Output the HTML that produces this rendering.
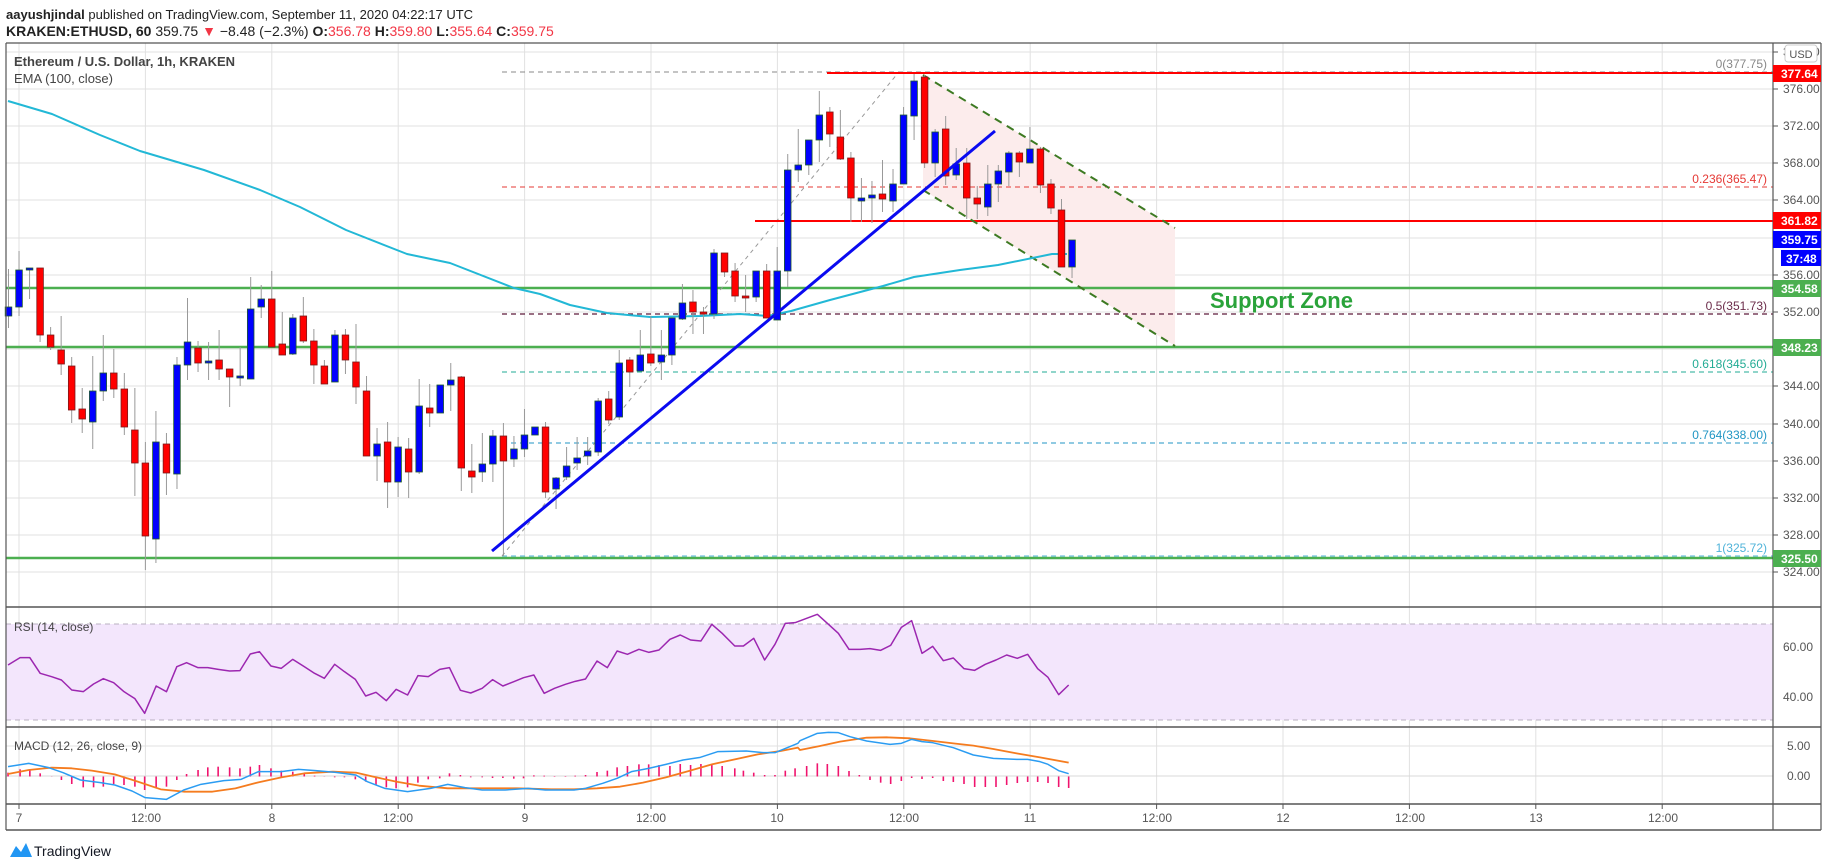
<!DOCTYPE html>
<html><head><meta charset="utf-8"><style>
body{margin:0;background:#fff;width:1828px;height:868px;overflow:hidden;font-family:"Liberation Sans",sans-serif;}
svg{position:absolute;left:0;top:0}
</style></head><body>
<svg id="s" width="1828" height="868" xmlns="http://www.w3.org/2000/svg" font-family="Liberation Sans, sans-serif">
<g id="grid"></g>
<g id="bg"></g>
<g id="ov"></g>
<g id="cd"></g>
<g id="top"></g>
<!-- header -->
<text x="6" y="19" font-size="13" fill="#222"><tspan font-weight="bold">aayushjindal</tspan> published on TradingView.com, September 11, 2020 04:22:17 UTC</text>
<text x="6" y="36" font-size="14" fill="#222"><tspan font-weight="bold">KRAKEN:ETHUSD, 60</tspan> 359.75 <tspan fill="#f23645">▼</tspan> −8.48 (−2.3%) <tspan font-weight="bold">O:</tspan><tspan fill="#f23645">356.78</tspan> <tspan font-weight="bold">H:</tspan><tspan fill="#f23645">359.80</tspan> <tspan font-weight="bold">L:</tspan><tspan fill="#f23645">355.64</tspan> <tspan font-weight="bold">C:</tspan><tspan fill="#f23645">359.75</tspan></text>
<text x="14" y="66" font-size="13" font-weight="bold" fill="#444">Ethereum / U.S. Dollar, 1h, KRAKEN</text>
<text x="14" y="83" font-size="13" fill="#444">EMA (100, close)</text>
<text x="1210" y="308" font-size="22" font-weight="bold" fill="#2aa33a">Support Zone</text>
<!-- fib labels -->
<g font-size="12" text-anchor="end">
<text x="1767" y="68" fill="#888">0(377.75)</text>
<text x="1767" y="183" fill="#e53935">0.236(365.47)</text>
<text x="1767" y="310" fill="#6b2c4a">0.5(351.73)</text>
<text x="1767" y="368" fill="#22ab94">0.618(345.60)</text>
<text x="1767" y="439" fill="#2196c4">0.764(338.00)</text>
<text x="1767" y="552" fill="#4fb3d9">1(325.72)</text>
</g>
<!-- price axis -->
<g font-size="12" fill="#555">
<text x="1783" y="56">380.00</text>
<text x="1783" y="93">376.00</text>
<text x="1783" y="130">372.00</text>
<text x="1783" y="167">368.00</text>
<text x="1783" y="204">364.00</text>
<text x="1783" y="279">356.00</text>
<text x="1783" y="316">352.00</text>
<text x="1783" y="390">344.00</text>
<text x="1783" y="428">340.00</text>
<text x="1783" y="465">336.00</text>
<text x="1783" y="502">332.00</text>
<text x="1783" y="539">328.00</text>
<text x="1783" y="576">324.00</text>
<text x="1783" y="651">60.00</text>
<text x="1783" y="701">40.00</text>
<text x="1787" y="750">5.00</text>
<text x="1787" y="780">0.00</text>
</g>
<rect x="1785" y="45" width="32" height="17" rx="3" fill="#fff" stroke="#ccc"/>
<text x="1801" y="58" font-size="11" fill="#555" text-anchor="middle">USD</text>
<g font-size="12" font-weight="bold" fill="#fff">
<rect x="1773" y="65" width="48" height="17" fill="#ff0000"/><text x="1781" y="78">377.64</text>
<rect x="1773" y="212" width="48" height="17" fill="#ff0000"/><text x="1781" y="225">361.82</text>
<rect x="1773" y="231" width="48" height="17" fill="#0000ff"/><text x="1781" y="244">359.75</text>
<rect x="1781" y="250" width="40" height="16" fill="#0000ff"/><text x="1786" y="263">37:48</text>
<rect x="1773" y="280" width="48" height="17" fill="#4caf50"/><text x="1781" y="293">354.58</text>
<rect x="1773" y="339" width="48" height="17" fill="#4caf50"/><text x="1781" y="352">348.23</text>
<rect x="1773" y="550" width="48" height="17" fill="#4caf50"/><text x="1781" y="563">325.50</text>
</g>
<text x="14" y="631" font-size="12" fill="#444">RSI (14, close)</text>
<text x="14" y="750" font-size="12" fill="#444">MACD (12, 26, close, 9)</text>
<!-- time axis -->
<g font-size="12" fill="#555" text-anchor="middle">
<text x="19" y="822">7</text><text x="146" y="822">12:00</text><text x="272" y="822">8</text><text x="398" y="822">12:00</text>
<text x="525" y="822">9</text><text x="651" y="822">12:00</text><text x="777" y="822">10</text><text x="904" y="822">12:00</text>
<text x="1030" y="822">11</text><text x="1157" y="822">12:00</text><text x="1283" y="822">12</text><text x="1410" y="822">12:00</text>
<text x="1536" y="822">13</text><text x="1663" y="822">12:00</text>
</g>
<path d="M10 857 L16 846 L21 852 L26 843 L32 857 Z" fill="#2196f3"/>
<text x="34" y="856" font-size="14" fill="#131722">TradingView</text>
</svg>
<script>
var NS="http://www.w3.org/2000/svg";
function el(g,t,a){var e=document.createElementNS(NS,t);for(var k in a)e.setAttribute(k,a[k]);document.getElementById(g).appendChild(e);return e;}
function line(g,x1,y1,x2,y2,c,w,d){var a={x1:x1,y1:y1,x2:x2,y2:y2,stroke:c,"stroke-width":w||1};if(d)a["stroke-dasharray"]=d;return el(g,"line",a);}
function poly(g,pts,c,w){el(g,"polyline",{points:pts.map(function(p){return p[0]+","+p[1]}).join(" "),fill:"none",stroke:c,"stroke-width":w||1.5,"stroke-linejoin":"round"});}
var L=6,R=1773;
[52,89,126,163,200,238,275,312,349,386,424,461,498,535,572].forEach(function(y){line("grid",L,y,R,y,"#e1e1e1",1);line("grid",R,y,R+5,y,"#555",1);});
for(var i=0;i<14;i++){var x=19+i*126.4;line("grid",x,43,x,804,"#e1e1e1",1);line("grid",x,804,x,809,"#555",1);}
el("bg","rect",{x:L,y:624,width:R-L,height:96,fill:"#f3e6fc"});
line("grid",L,647,R,647,"#d2c4dc",1);line("grid",L,697,R,697,"#d2c4dc",1);
line("ov",L,624,R,624,"#b9b0c0",1,"5,4");line("ov",L,720,R,720,"#b9b0c0",1,"5,4");
line("grid",L,746,R,746,"#e1e1e1",1);line("grid",L,776,R,776,"#d9d9d9",1);
el("bg","polygon",{points:"923,75 1175,228 1175,346 923,190",fill:"#fcecec"});
[288,347,558].forEach(function(y){line("ov",L,y,R,y,"#4caf50",2.5);});
line("ov",502,72,R,72,"#888",1,"5,4");line("ov",502,187,R,187,"#e53935",1,"5,4");
line("ov",502,314,R,314,"#5d1a3a",1.2,"5,4");line("ov",502,372,R,372,"#22ab94",1,"5,4");
line("ov",502,443,R,443,"#2196c4",1,"5,4");line("ov",502,556,R,556,"#4fb3d9",1,"5,4");
line("ov",502,556,898,73,"#999",1,"4,4");
line("ov",827,73,R,73,"#ff0000",2);line("ov",755,221,R,221,"#ff0000",2);
line("ov",923,75,1175,228,"#3d7a22",2,"8,6");line("ov",923,190,1175,346,"#3d7a22",2,"8,6");
poly("ov",[[8,101],[52,114],[100,135],[140,151],[204,170],[260,190],[300,207],[346,230],[407,254],[450,263],[514,288],[540,294],[570,305],[607,313],[650,317],[700,316],[740,314],[768,316],[791,311],[830,300],[883,286],[914,277],[960,270],[998,265],[1052,254],[1067,254]],"#22b8d6",2);
var C=[[307,316,1,269,328],[270,307,1,251,316],[268,270,1,268,299],[268,335,0,268,342],[335,347,0,327,350],[350,364,0,316,375],[366,410,0,357,423],[409,419,0,388,433],[391,422,1,356,449],[373,391,1,335,401],[373,389,0,349,398],[389,427,0,373,435],[430,463,0,388,496],[463,536,0,442,570],[442,539,1,411,563],[444,473,0,433,495],[365,474,1,357,489],[342,365,1,298,380],[348,363,0,341,372],[361,363,1,342,380],[360,369,0,330,380],[369,377,0,369,407],[376,377,1,347,386],[309,379,1,277,379],[299,307,1,285,318],[299,347,0,271,347],[344,355,0,312,355],[318,354,1,314,355],[316,341,0,297,343],[341,365,0,329,384],[366,384,0,360,384],[335,382,1,330,382],[335,360,0,329,374],[362,387,0,324,404],[391,456,0,376,456],[444,456,1,428,481],[442,482,0,422,508],[447,482,1,437,497],[449,472,0,438,498],[406,472,1,379,474],[408,413,0,384,427],[385,413,1,385,413],[380,385,1,363,411],[377,468,0,376,491],[471,477,0,444,493],[464,472,1,433,482],[436,464,1,430,482],[436,461,0,423,556],[449,459,1,436,467],[435,449,1,409,457],[427,435,1,427,435],[427,492,0,422,498],
[478,489,1,477,509],[466,477,1,447,480],[458,463,1,437,470],[451,456,1,437,465],[401,452,1,398,456],[399,420,0,391,424],[363,417,1,350,420],[360,372,0,357,387],[355,371,1,330,371],[354,363,0,316,366],[355,362,1,330,380],[318,355,1,317,365],[303,319,1,284,320],[302,312,0,290,334],[312,314,0,307,334],[253,314,1,249,319],[253,272,0,253,277],[271,296,0,263,302],[296,298,0,275,312],[271,297,1,271,302],[271,318,0,264,318],[271,320,1,247,320],[170,271,1,154,287],[165,170,1,129,182],[140,165,1,140,175],[115,140,1,91,162],[112,134,0,107,147],[137,159,0,110,160],[158,198,0,152,222],[198,201,1,178,222],[195,198,1,181,223],[194,199,0,160,212],[184,201,1,169,212],[115,184,1,107,184],[81,116,1,74,140],[77,163,0,75,168],[132,163,1,129,177],[129,176,0,116,185],[164,175,1,148,180],[163,198,0,148,219],[198,204,0,186,219],[184,207,1,165,216],[171,184,1,165,202],[153,172,1,151,186],[153,162,0,151,177],[149,163,1,127,163],[149,185,0,147,193],[184,208,0,179,214],[210,267,0,199,267],[240,267,1,240,278]];
C.forEach(function(c,i){var x=8.5+i*10.53;line("cd",x,c[3],x,c[4],"#999",1);
var h=Math.max(c[1]-c[0],2);el("cd","rect",{x:x-3.3,y:c[0],width:6.6,height:h,fill:c[2]?"#0000ff":"#ff0000",stroke:c[2]?"#1e5a2a":"#7a1a1a","stroke-width":0.8});});
line("top",492,551,995,131,"#0a0af0",3);
var r3=[[14,255],[35,233],[52,233],[70,280],[90,290],[107,300],[125,330],[145,335],[163,312],[180,296],[198,308],[216,335],[235,356],[252,400],[272,318],[290,335],[308,260],[325,248],[345,263],[362,263],[380,268],[400,273],[418,272],[436,222],[452,215],[472,258],[490,265],[510,238],[530,260],[548,280],[565,295],[583,253],[600,275],[619,298],[637,348],[655,337],[673,362],[690,328],[710,345],[728,287],[746,290],[766,268],[783,263],[802,331],[820,339],[840,325],[858,299],[876,318],[895,305],[912,293],[930,285],[948,340],[966,325],[985,313],[1002,304],[1020,297],[1040,243],[1058,263],[1075,213],[1093,223],[1113,208],[1130,217],[1148,210],[1167,178],[1185,165],[1203,180],[1221,183],[1240,133],[1258,160],[1280,198],[1295,198],[1313,175],[1332,240],[1350,193],[1368,130],[1385,128]];
var r8=[[52,43],[82,70],[115,100],[147,148],[180,148],[210,146],[242,151],[272,136],[304,82],[335,62],[366,160],[398,139],[430,182],[460,174],[492,206],[524,211],[556,193],[588,180],[620,165],[652,175],[683,163],[713,206],[744,232],[776,284],[806,255]];
function z3(a){return a.map(function(p){return [p[0]/1.742,580+p[1]/3]});}
function z8(a){return a.map(function(p){return [800+p[0]/3,600+p[1]/3]});}
poly("ov",z3(r3).concat(z8(r8)),"#9c27b0",1.5);
var h3=[[14,578],[35,568],[52,568],[70,580],[90,590],[107,600],[125,612],[145,622],[163,622],[180,620],[198,612],[216,615],[235,620],[252,630],[272,625],[290,620],[308,600],[325,582],[345,570],[362,562],[380,560],[400,562],[418,565],[436,560],[452,555],[472,565],[490,572],[510,575],[530,582],[548,587],[565,590],[583,592],[600,592],[619,598],[637,605],[655,615],[673,622],[690,625],[710,622],[728,608],[746,598],[766,595],[783,580],[802,585],[820,592],[840,592],[858,594],[876,594],[895,596],[912,595],[930,586],[948,587],[966,588],[985,588],[1002,587],[1020,585],[1040,576],[1058,572],[1075,562],[1093,558],[1113,553],[1130,553],[1148,555],[1167,558],[1185,552],[1203,555],[1221,552],[1240,552],[1258,558],[1280,565],[1295,572],[1313,578],[1332,585],[1350,585],[1368,572],[1385,565]];
var h8=[[20,498],[52,490],[82,492],[115,498],[147,513],[178,525],[210,540],[242,548],[272,552],[304,543],[335,534],[366,537],[398,534],[430,543],[460,546],[492,552],[524,561],[556,561],[588,561],[620,555],[652,549],[683,546],[713,546],[744,549],[776,561],[806,564]];
z3(h3).concat(z8(h8)).forEach(function(p){line("ov",p[0],776.5,p[0],p[1],"#f0146e",1.6);});
var m3=[[14,560],[50,550],[85,563],[110,578],[140,600],[175,608],[200,615],[230,633],[253,653],[290,658],[320,630],[350,613],[390,602],[420,598],[450,575],[490,575],[520,568],[550,572],[585,577],[620,585],[640,605],[670,625],[710,635],[750,625],[780,613],[810,623],[840,630],[880,630],[920,625],[950,630],[1000,630],[1020,625],[1050,610],[1075,595],[1100,575],[1130,565],[1160,553],[1190,540],[1220,532],[1250,515],[1300,513],[1330,518],[1350,518],[1390,490]];
var m8=[[0,422],[52,400],[85,397],[115,398],[150,410],[200,423],[270,433],[304,430],[335,418],[366,425],[398,428],[460,443],[520,465],[580,475],[650,478],[683,478],[720,485],[744,493],[776,512],[806,521]];
var s3=[[14,582],[50,570],[90,563],[125,565],[160,572],[200,583],[240,605],[280,628],[320,635],[370,635],[410,625],[450,607],[490,592],[530,580],[580,575],[620,578],[650,590],[690,605],[730,617],[780,625],[830,625],[900,625],[960,628],[1000,628],[1040,625],[1080,620],[1120,608],[1160,592],[1200,573],[1240,553],[1280,538],[1320,523],[1360,513],[1390,503]];
var s8=[[0,450],[60,438],[120,425],[200,413],[260,412],[330,415],[400,423],[460,430],[520,437],[580,447],[650,460],[720,472],[806,488]];
poly("ov",z3(s3).concat(z8(s8)),"#f57c1f",1.8);
poly("ov",z3(m3).concat(z8(m8)),"#2b9cf2",1.5);
line("top",L,43,1821,43,"#555",1.2);line("top",L,43,L,830,"#555",1.2);
line("top",R,43,R,830,"#555",1.2);line("top",1821,43,1821,830,"#555",1.2);
[607,727,804,830].forEach(function(y){line("top",L,y,1821,y,"#555",1.5);});
</script>
</body></html>
